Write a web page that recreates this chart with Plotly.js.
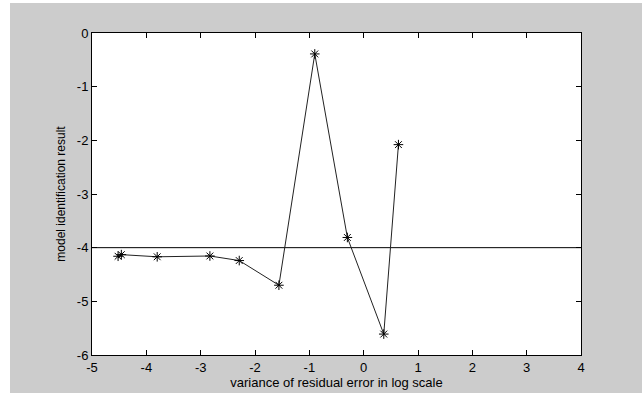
<!DOCTYPE html>
<html>
<head>
<meta charset="utf-8">
<script src="https://cdn.plot.ly/plotly-3.0.1.min.js"></script>
<style>
html,body{margin:0;padding:0;background:#ffffff;width:642px;height:393px;overflow:hidden;}
#chart{position:absolute;left:10px;top:3px;width:632px;height:390px;}
</style>
</head>
<body>
<div id="chart"></div>
<script>
var varianceLog = [-4.52, -4.46, -3.80, -2.83, -2.29, -1.56, -0.90, -0.30, 0.37, 0.64];
var identResult = [-4.16, -4.13, -4.17, -4.155, -4.24, -4.70, -0.39, -3.81, -5.61, -2.08];
var refLineX = [-5, 4];
var refLineY = [-4, -4];
var xTicks = [-5, -4, -3, -2, -1, 0, 1, 2, 3, 4];
var yTicks = [-6, -5, -4, -3, -2, -1, 0];

var font = {family: 'Liberation Sans, Arial, sans-serif', size: 13, color: '#000000'};

var traces = [
  {x: refLineX, y: refLineY, mode: 'lines', line: {color: '#000000', width: 1}, hoverinfo: 'skip'},
  {x: varianceLog, y: identResult, mode: 'lines+markers',
   line: {color: '#222222', width: 1},
   marker: {symbol: 'asterisk-open', size: 8, color: '#000000', line: {color: '#000000', width: 1}}}
];

var axisCommon = {
  showline: true, linecolor: '#000000', linewidth: 1, mirror: 'ticks',
  ticks: 'inside', ticklen: 5, tickcolor: '#000000', tickwidth: 1,
  showgrid: false, zeroline: false, tickfont: font
};

var layout = {
  width: 632, height: 390,
  margin: {l: 82, r: 61, t: 30, b: 38},
  paper_bgcolor: '#cccccc', plot_bgcolor: '#ffffff',
  showlegend: false,
  font: font,
  xaxis: Object.assign({}, axisCommon, {
    range: [-5, 4], tickvals: xTicks, ticktext: xTicks.map(String),
    title: {text: 'variance of residual error in log scale', font: font, standoff: 2}
  }),
  yaxis: Object.assign({}, axisCommon, {
    range: [-6, 0], tickvals: yTicks, ticktext: yTicks.map(String),
    title: {text: 'model identification result', font: {family: font.family, size: 12, color: '#000'}, standoff: 8}
  })
};

Plotly.newPlot('chart', traces, layout, {displayModeBar: false, staticPlot: true});
</script>
</body>
</html>
